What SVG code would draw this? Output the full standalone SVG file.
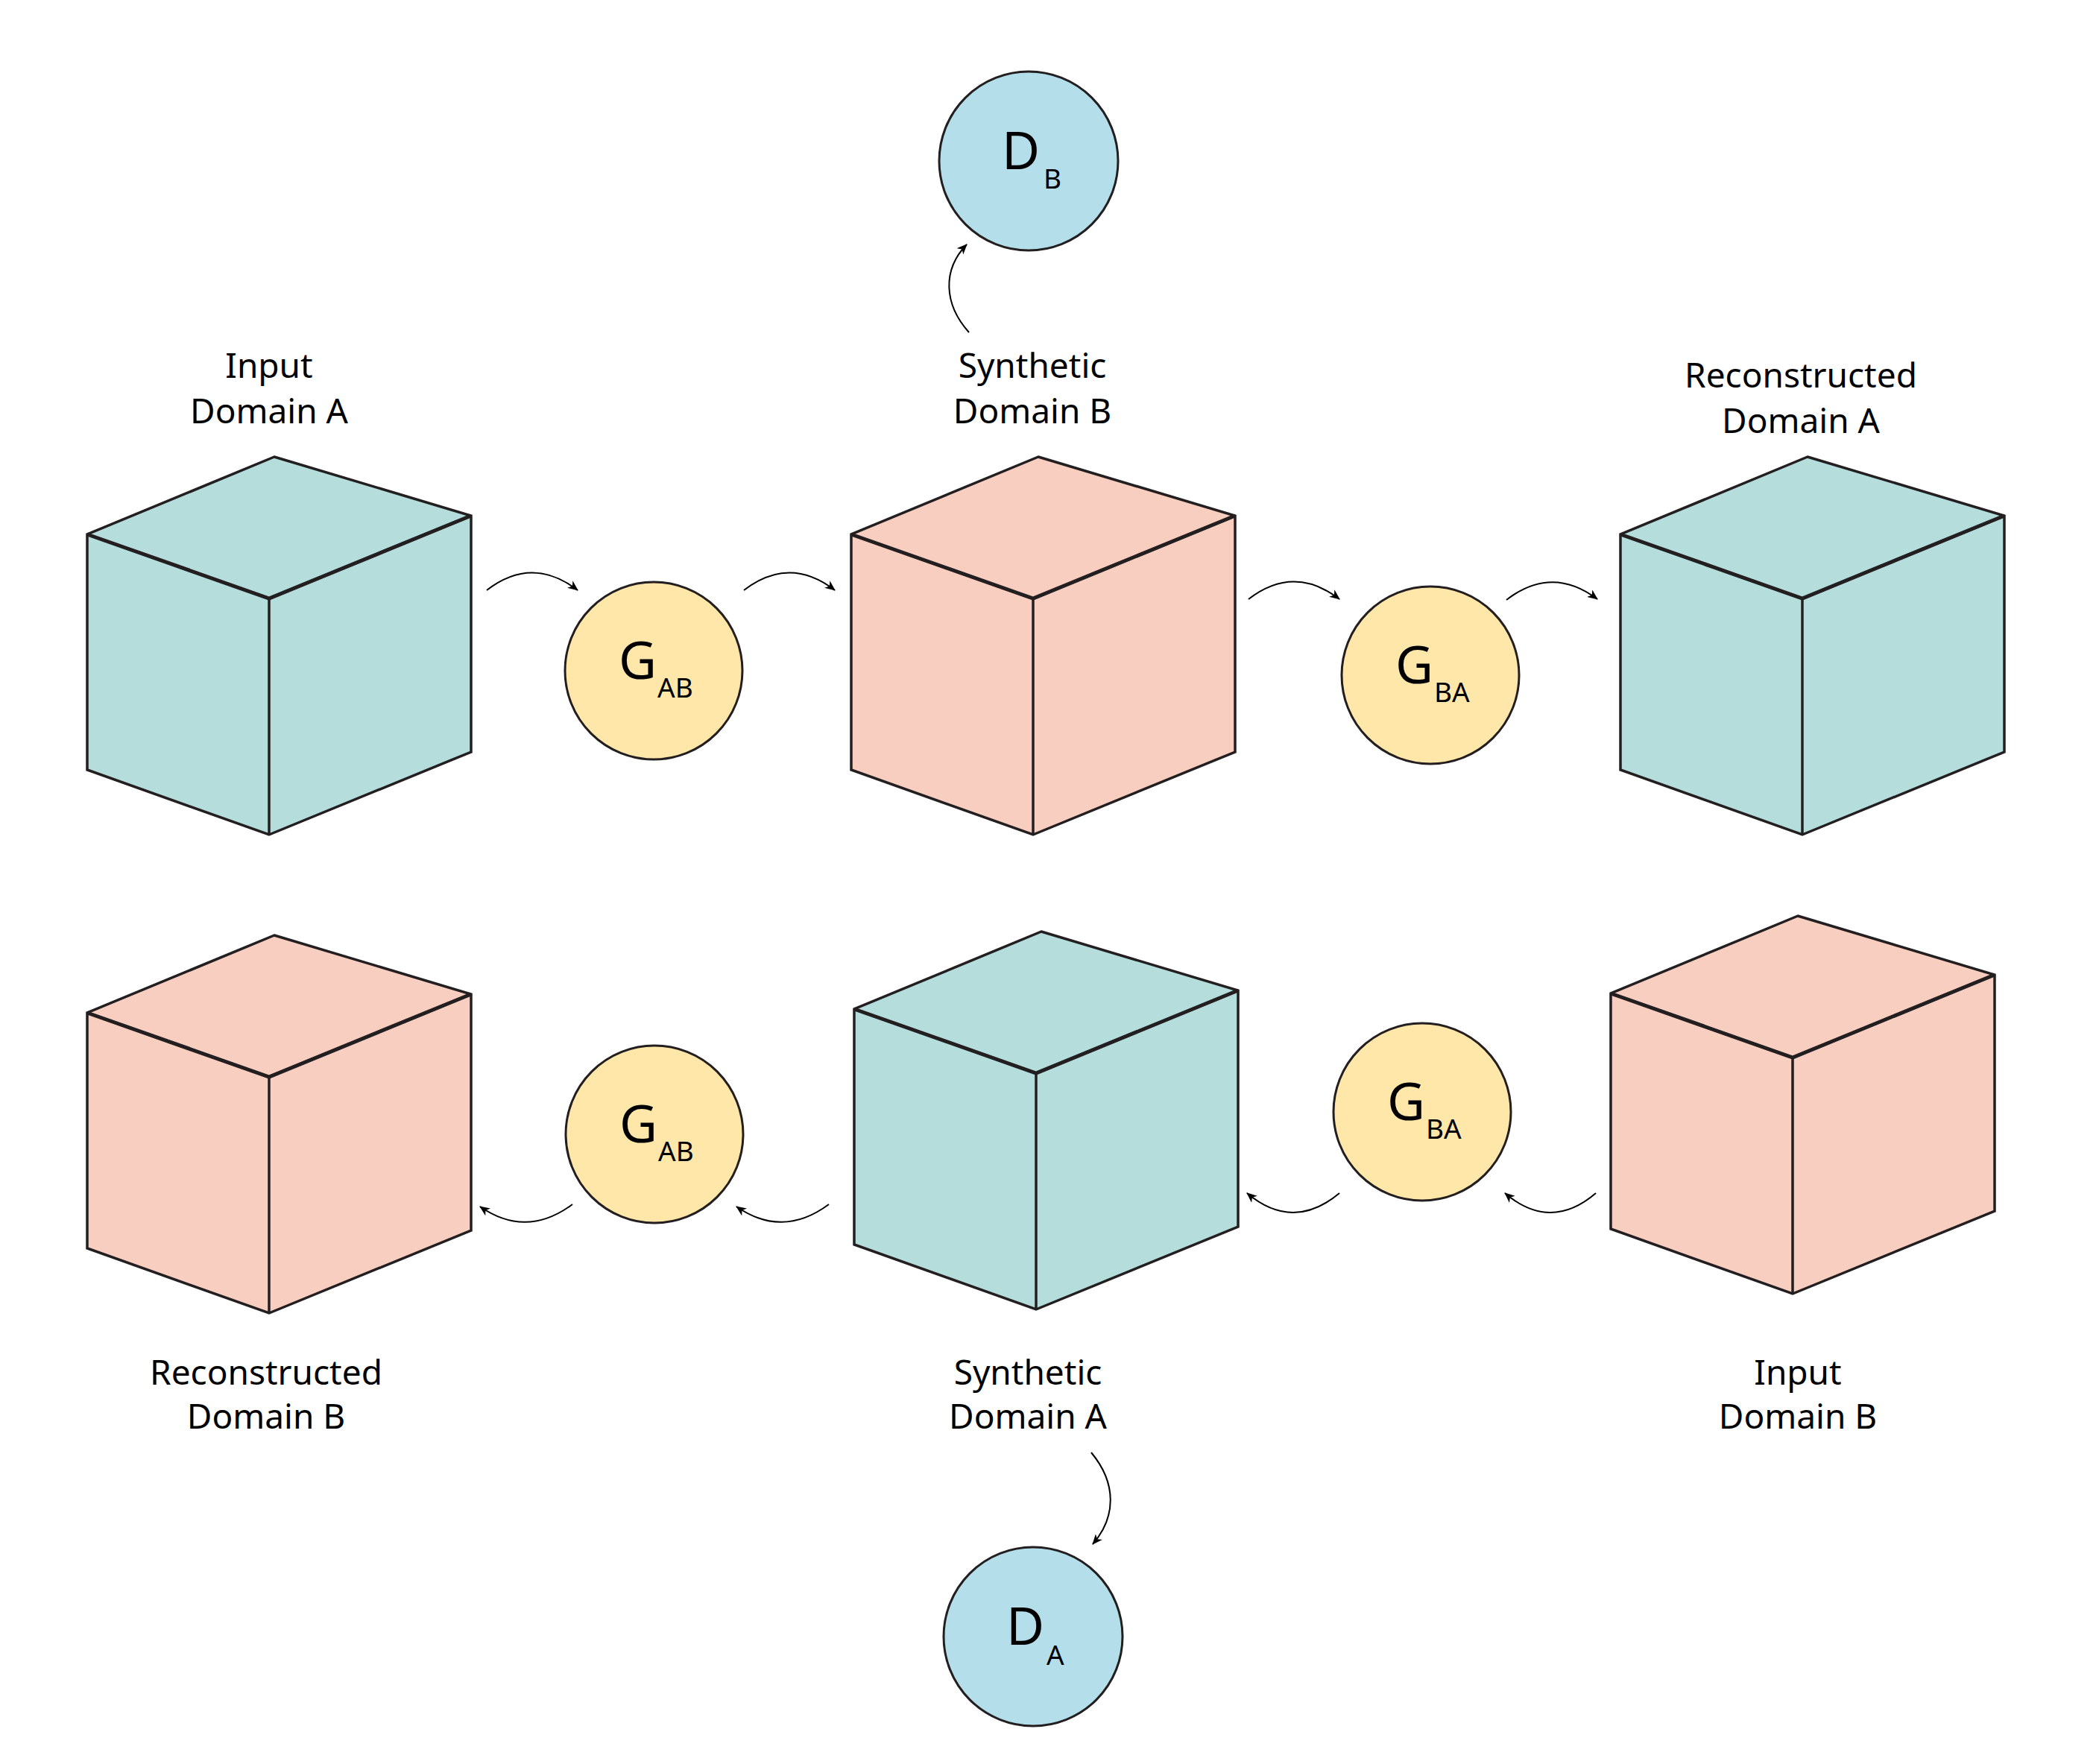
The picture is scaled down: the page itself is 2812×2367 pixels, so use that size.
<svg xmlns="http://www.w3.org/2000/svg" width="2812" height="2367" viewBox="0 0 2812 2367">
<style>
.bg{fill:#ffffff}
.teal{fill:#B4DDDB}
.salmon{fill:#F8CEC1}
.outline{fill:none;stroke:#231F20;stroke-width:3.5;stroke-linejoin:miter}
.inner{fill:none;stroke:#231F20;stroke-width:5}
.vert{fill:none;stroke:#231F20;stroke-width:3.5}
.gen{fill:#FFE6A9;stroke:#231F20;stroke-width:3}
.disc{fill:#B4DFEA;stroke:#231F20;stroke-width:3}
.lbl{font-family:"Noto Sans","Open Sans","Liberation Sans",sans-serif;font-size:46px;fill:#000;text-anchor:middle}
.sym{font-family:"Noto Sans","Open Sans","Liberation Sans",sans-serif;font-size:70px;fill:#000}
.sub{font-family:"Noto Sans","Open Sans","Liberation Sans",sans-serif;font-size:37px;fill:#000}
.conn{fill:none;stroke:#000;stroke-width:2}
</style>
<defs>
<marker id="ah" viewBox="0 0 14 12" refX="13" refY="6" markerWidth="14" markerHeight="12" orient="auto" markerUnits="userSpaceOnUse">
<path d="M0,0 L14,6 L0,12 L4,6 z" fill="#000"/>
</marker>
<path id="hex" d="M7,-190 L271,-111 L271,206 L0,317 L-244,230 L-244,-86 Z"/>
</defs>
<rect class="bg" x="0" y="0" width="2812" height="2367"/>

<g id="cube-input-a" transform="translate(361,803)">
<use href="#hex" class="teal"/>
<use href="#hex" class="outline"/>
<path class="inner" d="M-244,-86 L0,0 L271,-111"/>
<path class="vert" d="M0,0 L0,317"/>
</g>
<g id="label-input-a"><text class="lbl" x="361" y="507">Input</text><text class="lbl" x="361" y="568">Domain A</text></g>

<g id="cube-synthetic-b" transform="translate(1386,803)">
<use href="#hex" class="salmon"/>
<use href="#hex" class="outline"/>
<path class="inner" d="M-244,-86 L0,0 L271,-111"/>
<path class="vert" d="M0,0 L0,317"/>
</g>
<g id="label-synthetic-b"><text class="lbl" x="1385" y="507">Synthetic</text><text class="lbl" x="1385" y="568">Domain B</text></g>

<g id="cube-reconstructed-a" transform="translate(2418,803)">
<use href="#hex" class="teal"/>
<use href="#hex" class="outline"/>
<path class="inner" d="M-244,-86 L0,0 L271,-111"/>
<path class="vert" d="M0,0 L0,317"/>
</g>
<g id="label-reconstructed-a"><text class="lbl" x="2416" y="520">Reconstructed</text><text class="lbl" x="2416" y="581">Domain A</text></g>

<g id="cube-reconstructed-b" transform="translate(361,1445)">
<use href="#hex" class="salmon"/>
<use href="#hex" class="outline"/>
<path class="inner" d="M-244,-86 L0,0 L271,-111"/>
<path class="vert" d="M0,0 L0,317"/>
</g>
<g id="label-reconstructed-b"><text class="lbl" x="357" y="1858">Reconstructed</text><text class="lbl" x="357" y="1917">Domain B</text></g>

<g id="cube-synthetic-a" transform="translate(1390,1440)">
<use href="#hex" class="teal"/>
<use href="#hex" class="outline"/>
<path class="inner" d="M-244,-86 L0,0 L271,-111"/>
<path class="vert" d="M0,0 L0,317"/>
</g>
<g id="label-synthetic-a"><text class="lbl" x="1379" y="1858">Synthetic</text><text class="lbl" x="1379" y="1917">Domain A</text></g>

<g id="cube-input-b" transform="translate(2405,1419)">
<use href="#hex" class="salmon"/>
<use href="#hex" class="outline"/>
<path class="inner" d="M-244,-86 L0,0 L271,-111"/>
<path class="vert" d="M0,0 L0,317"/>
</g>
<g id="label-input-b"><text class="lbl" x="2412" y="1858">Input</text><text class="lbl" x="2412" y="1917">Domain B</text></g>

<g id="gen-ab-top">
<circle class="gen" cx="877" cy="900" r="119"/>
<text class="sym" x="830" y="911">G</text><text class="sub" x="882" y="936">AB</text>
</g>
<g id="gen-ba-top">
<circle class="gen" cx="1919" cy="906" r="119"/>
<text class="sym" x="1872" y="917">G</text><text class="sub" x="1924" y="942">BA</text>
</g>
<g id="gen-ab-bottom">
<circle class="gen" cx="878" cy="1522" r="119"/>
<text class="sym" x="831" y="1533">G</text><text class="sub" x="883" y="1558">AB</text>
</g>
<g id="gen-ba-bottom">
<circle class="gen" cx="1908" cy="1492" r="119"/>
<text class="sym" x="1861" y="1503">G</text><text class="sub" x="1913" y="1528">BA</text>
</g>
<g id="disc-b">
<circle class="disc" cx="1380" cy="216" r="120"/>
<text class="sym" x="1344" y="227">D</text><text class="sub" x="1400" y="253">B</text>
</g>
<g id="disc-a">
<circle class="disc" cx="1386" cy="2196" r="120"/>
<text class="sym" x="1350" y="2207">D</text><text class="sub" x="1404" y="2234">A</text>
</g>

<g id="connectors">
<path class="conn" marker-end="url(#ah)" d="M653,792 Q714,745 775,792"/>
<path class="conn" marker-end="url(#ah)" d="M998,792 Q1059,745 1120,792"/>
<path class="conn" marker-end="url(#ah)" d="M1675,804 Q1736,757 1797,804"/>
<path class="conn" marker-end="url(#ah)" d="M2021,805 Q2082,758 2143,804"/>
<path class="conn" marker-end="url(#ah)" d="M768,1616 Q706,1662 644,1619"/>
<path class="conn" marker-end="url(#ah)" d="M1112,1616 Q1050,1662 988,1619"/>
<path class="conn" marker-end="url(#ah)" d="M1797,1601 Q1735,1653 1673,1601"/>
<path class="conn" marker-end="url(#ah)" d="M2141,1601 Q2080,1653 2019,1601"/>
<path class="conn" marker-end="url(#ah)" d="M1300,446 C1266,408 1264,362 1297,328"/>
<path class="conn" marker-end="url(#ah)" d="M1464,1949 C1498,1990 1498,2035 1466,2072"/>
</g>
</svg>
